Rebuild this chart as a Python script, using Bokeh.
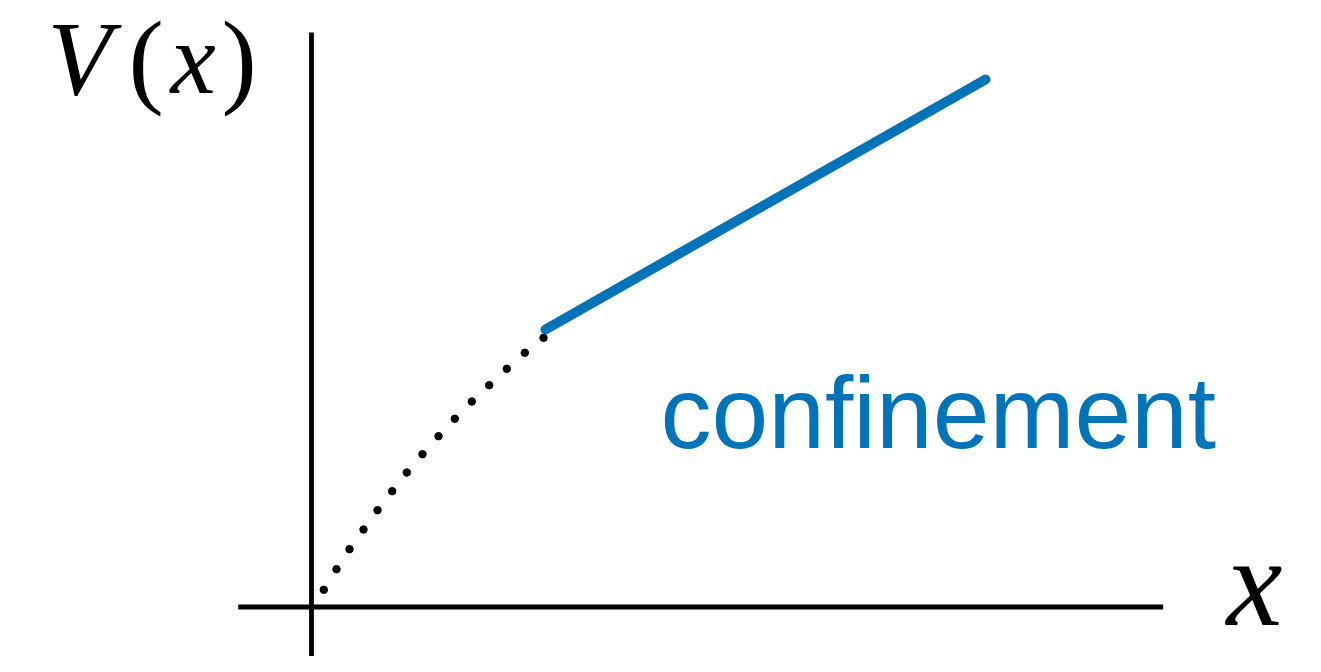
from bokeh.plotting import figure
from bokeh.models import Range1d, Label
from bokeh.embed import file_html
from bokeh.resources import INLINE

# ---- data (axis units: origin at the axes crossing) ----
axis_x_limits = [-0.733, 8.517]      # horizontal axis line extent
axis_y_limits = [-0.6, 5.745]        # vertical axis line extent

dot_x = [0.123, 0.25, 0.38, 0.52, 0.66, 0.807, 0.953, 1.11, 1.27, 1.433,
         1.603, 1.777, 1.953, 2.133, 2.32]
dot_y = [0.172, 0.378, 0.578, 0.775, 0.968, 1.158, 1.345, 1.528, 1.708,
         1.882, 2.055, 2.218, 2.382, 2.542, 2.692]

conf_x = [2.34, 4.54, 6.74]
conf_y = [2.775, 4.025, 5.275]

BLUE = "#0173B8"

p = figure(width=1305, height=656, output_backend="svg", toolbar_location=None,
           x_range=Range1d(-3.11, 9.94), y_range=Range1d(-0.495, 6.065),
           min_border=0)
p.axis.visible = False
p.grid.visible = False
p.outline_line_color = None
p.background_fill_color = "white"
p.border_fill_color = "white"

# axes drawn as plain lines
p.line(x=axis_x_limits, y=[0, 0], line_color="black", line_width=4.8)
p.line(x=[0, 0], y=axis_y_limits, line_color="black", line_width=4.8)

# dotted short-distance part
p.scatter(x=dot_x, y=dot_y, size=7.5, color="black")

# confinement linear part
p.line(x=conf_x, y=conf_y, line_color=BLUE, line_width=10, line_cap="round")

# labels
p.add_layout(Label(x=3.49, y=1.937, text="confinement", text_color=BLUE,
                   text_font="Liberation Sans", text_font_size="102px",
                   text_baseline="alphabetic"))

serif = "Liberation Serif"
p.add_layout(Label(x=-2.64, y=5.488, text="V", text_font=serif, text_font_style="italic",
                   text_color="black", text_font_size="105px", text_baseline="alphabetic"))
p.add_layout(Label(x=-1.83, y=5.482, text="(", text_font=serif, text_color="black",
                   text_font_size="106px", text_baseline="alphabetic"))
p.add_layout(Label(x=-1.41, y=5.487, text="x", text_font=serif, text_font_style="italic",
                   text_color="black", text_font_size="102px", text_baseline="alphabetic"))
p.add_layout(Label(x=-0.90, y=5.482, text=")", text_font=serif, text_color="black",
                   text_font_size="106px", text_baseline="alphabetic"))

p.add_layout(Label(x=9.15, y=0.245, text="x", text_font=serif, text_font_style="italic",
                   text_color="black", text_font_size="126px", text_baseline="alphabetic"))

open("out.html", "w").write(file_html(p, INLINE))
